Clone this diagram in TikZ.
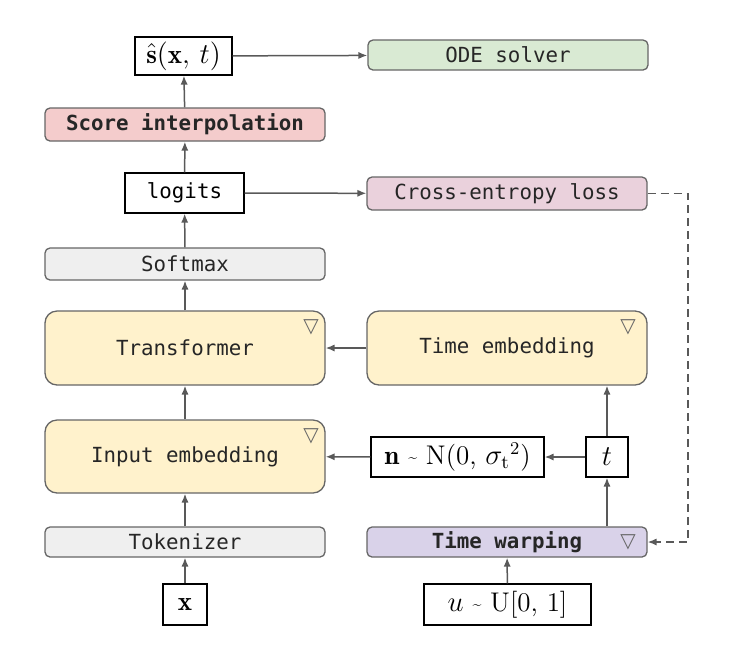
\documentclass[tikz,border=0pt]{standalone}
\usepackage{fontspec}
\setmonofont{DejaVu Sans Mono}
\newfontfamily\symfont{DejaVu Sans}
\usetikzlibrary{arrows.meta}
\definecolor{bordc}{HTML}{666666}
\definecolor{arrc}{HTML}{595959}
\definecolor{redf}{HTML}{F4CCCC}
\definecolor{greenf}{HTML}{D9EAD3}
\definecolor{pinkf}{HTML}{EAD1DC}
\definecolor{grayf}{HTML}{EFEFEF}
\definecolor{yellowf}{HTML}{FFF2CC}
\definecolor{purplef}{HTML}{D9D2E9}
\newcommand{\smtilde}{\raisebox{0.15ex}{\fontsize{8}{9}\selectfont\textasciitilde}}
\begin{document}
\begin{tikzpicture}[x=0.5pt,y=-0.5pt,
  blk/.style={draw=bordc, line width=0.65pt, rounded corners=2.5pt, inner sep=0pt,
     font=\fontsize{10.4}{12}\ttfamily, text=black!85},
  bigblk/.style={blk, rounded corners=6pt},
  mbox/.style={draw=black, line width=0.65pt, fill=white, inner sep=0pt,
     font=\fontsize{13.5}{15}\selectfont},
  arr/.style={draw=arrc, line width=0.75pt, -{Latex[length=4.5pt,width=3.6pt]}},
  tri/.style={text=bordc, font=\symfont\fontsize{10}{12}\selectfont, inner sep=0pt}]
\useasboundingbox (0,0) rectangle (729,661);
% top
\node[mbox, minimum width=48.5pt, minimum height=19pt] (shat) at (183.5,56) {$\hat{\mathbf{s}}(\mathbf{x},\, t)$};
\node[blk, fill=greenf, minimum width=140pt, minimum height=15pt] (ode) at (508,55) {ODE solver};
\node[blk, fill=redf, minimum width=140pt, minimum height=16.5pt, font=\fontsize{10.4}{12}\ttfamily\bfseries] (score) at (185,124.5) {Score interpolation};
\node[mbox, minimum width=59.5pt, minimum height=20pt, font=\fontsize{10.4}{12}\ttfamily] (logits) at (184.5,193) {logits};
\node[blk, fill=pinkf, minimum width=140pt, minimum height=16.5pt] (ce) at (507,193.5) {Cross-entropy loss};
\node[blk, fill=grayf, minimum width=140pt, minimum height=16pt] (softmax) at (185,264) {Softmax};
\node[bigblk, fill=yellowf, minimum width=140pt, minimum height=37pt] (trans) at (185,348) {Transformer};
\node[bigblk, fill=yellowf, minimum width=140pt, minimum height=37pt] (temb) at (507,348) {Time embedding};
\node[bigblk, fill=yellowf, minimum width=140pt, minimum height=36.5pt] (iemb) at (185,456.5) {Input embedding};
\node[mbox, minimum width=86.5pt, minimum height=20pt] (nbox) at (457.5,457) {$\mathbf{n}$ \smtilde{} N(0, $\sigma_{\mathrm{t}}{}^{2}$)};
\node[mbox, minimum width=21pt, minimum height=20pt] (tbox) at (607,457) {$t$};
\node[blk, fill=grayf, minimum width=140pt, minimum height=15pt] (tok) at (185,542) {Tokenizer};
\node[blk, fill=purplef, minimum width=140pt, minimum height=15pt, font=\fontsize{10.4}{12}\ttfamily\bfseries] (warp) at (507,542) {Time warping};
\node[mbox, minimum width=22pt, minimum height=20.5pt] (xbox) at (185,604.5) {$\mathbf{x}$};
\node[mbox, minimum width=83.5pt, minimum height=20.5pt] (ubox) at (507.5,604.5) {$u$ \smtilde{} U[0, 1]};
% triangles
\node[tri] (t1) at (311,327) {▽};
\node[tri] (t2) at (628,327) {▽};
\node[tri] (t3) at (311,436) {▽};
\node[tri] (t4) at (628,542) {▽};
% arrows
\draw[arr] (xbox) -- (tok);
\draw[arr] (tok) -- (iemb);
\draw[arr] (iemb) -- (trans);
\draw[arr] (trans) -- (softmax);
\draw[arr] (softmax) -- (logits);
\draw[arr] (logits) -- (score);
\draw[arr] (score) -- (shat);
\draw[arr] (shat) -- (ode);
\draw[arr] (logits) -- (ce);
\draw[arr] (temb) -- (trans);
\draw[arr] (nbox) -- (iemb);
\draw[arr] (tbox) -- (nbox);
\draw[arr] (tbox) -- (tbox|-temb.south);
\draw[arr] (tbox|-warp.north) -- (tbox);
\draw[arr] (ubox) -- (warp);
\coordinate (dc) at (688,193.5);
\draw[arr, dashed, dash pattern=on 4pt off 2.5pt] (ce.east) -- (dc) |- (warp.east);
\end{tikzpicture}
\end{document}
